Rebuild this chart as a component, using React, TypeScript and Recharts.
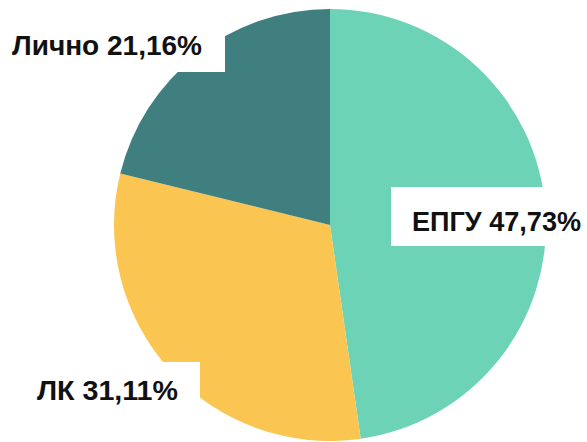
import React from 'react';
import { PieChart, Pie, Cell } from 'recharts';

// Доля обращений по каналам
const channels = ['ЕПГУ', 'ЛК', 'Лично'];
const shares = [47.73, 31.11, 21.16];
const colors = ['#6dd3b6', '#fbc552', '#407f80'];

const data = channels.map((name, i) => ({ name, value: shares[i] }));

// label placement relative to pie center (text start, baseline, white box)
const labelLayout: Record<string, { tx: number; ty: number; w: number; box: [number, number, number, number] }> = {
  'Лично': { tx: -318, ty: -170, w: 190, box: [-340, -230, 235, 77] },
  'ЕПГУ': { tx: 82, ty: 6, w: 169, box: [61, -38, 210, 59] },
  'ЛК': { tx: -293, ty: 175, w: 141, box: [-320, 137, 190, 60] },
};

const fmt = (v: number) => v.toFixed(2).replace('.', ',') + '%';

const renderLabel = (props: any) => {
  const { cx, cy, name, value } = props;
  const l = labelLayout[name];
  if (!l) return null;
  const [bx, by, bw, bh] = l.box;
  return (
    <g>
      <rect x={cx + bx} y={cy + by} width={bw} height={bh} fill="#ffffff" />
      <text
        x={cx + l.tx}
        y={cy + l.ty}
        textAnchor="start"
        fontFamily="'Liberation Sans', Arial, sans-serif"
        fontWeight="bold"
        fontSize={28}
        fill="#111111"
        textLength={l.w}
        lengthAdjust="spacingAndGlyphs"
      >
        {name} {fmt(value)}
      </text>
    </g>
  );
};

export default function App() {
  return (
    <div style={{ position: 'absolute', left: 0, top: 0, width: 587, height: 442, background: '#fff' }}>
      <PieChart width={587} height={442} margin={{ top: 0, right: 0, bottom: 0, left: 0 }}>
        <Pie
          data={data}
          dataKey="value"
          nameKey="name"
          cx={330}
          cy={225}
          outerRadius={216}
          startAngle={90}
          endAngle={-270}
          stroke="none"
          label={renderLabel}
          labelLine={false}
          isAnimationActive={false}
        >
          {data.map((d, i) => (
            <Cell key={d.name} fill={colors[i]} />
          ))}
        </Pie>
      </PieChart>
    </div>
  );
}
